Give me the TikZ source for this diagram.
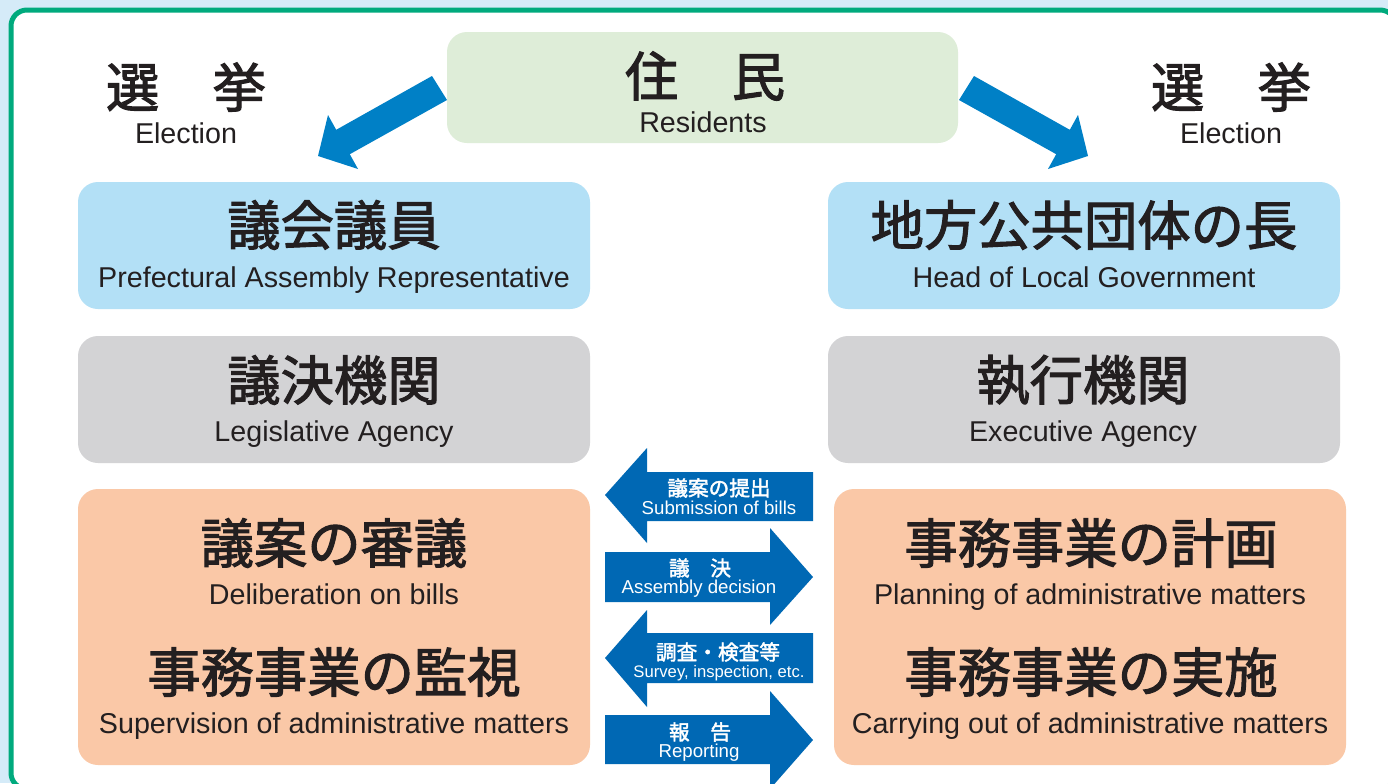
\documentclass[tikz,border=0pt]{standalone}
\usepackage{fontspec}
\setmainfont{Liberation Sans}
\newfontfamily\jpt{Noto Sans CJK JP}[FakeBold=2]
\definecolor{bgblue}{RGB}{213,235,248}
\definecolor{frame}{RGB}{0,170,125}
\definecolor{resfill}{RGB}{222,237,216}
\definecolor{bluefill}{RGB}{179,224,246}
\definecolor{grayfill}{RGB}{211,211,213}
\definecolor{orangefill}{RGB}{250,200,167}
\definecolor{toparrow}{RGB}{0,128,198}
\definecolor{midarrow}{RGB}{0,104,180}
\definecolor{ink}{RGB}{35,31,32}
\begin{document}
\begin{tikzpicture}[x=0.75pt,y=-0.75pt,
  box/.style={rounded corners=15pt, minimum width=384pt, inner sep=0pt, draw=none},
  jtitle/.style={font=\jpt\fontsize{40}{40}\selectfont, text=ink, inner sep=0pt, anchor=center},
  esub/.style={font=\fontsize{21.5}{21.5}\selectfont, text=ink, inner sep=0pt, anchor=base},
  arrj/.style={font=\jpt\fontsize{15.5}{16}\selectfont, text=white, inner sep=0pt, anchor=center},
  arre/.style={font=\fontsize{14}{14}\selectfont, text=white, inner sep=0pt, anchor=base}]
\useasboundingbox (0,0) rectangle (1388,783);
\fill[bgblue] (0,0) rectangle (1388,783);
\begin{scope}
\clip (0,0) rectangle (1388,783);
\draw[frame, line width=3.75pt, fill=white, rounded corners=12pt] (11,10) rectangle (1396,789);
\end{scope}

% boxes
\node[box, fill=resfill, minimum width=383.25pt, minimum height=83.25pt] (res) at (702.5,87.5) {};
\node[box, fill=bluefill, minimum height=95.25pt] (gikai) at (334,245.5) {};
\node[box, fill=bluefill, minimum height=95.25pt] (head) at (1084,245.5) {};
\node[box, fill=grayfill, minimum height=95.25pt] (giketsu) at (334,399.5) {};
\node[box, fill=grayfill, minimum height=95.25pt] (shikko) at (1084,399.5) {};
\node[box, fill=orangefill, minimum height=207pt] (lorange) at (334,627) {};
\node[box, fill=orangefill, minimum height=207pt] (rorange) at (1090,627) {};

% top arrows
\coordinate (la1) at (432,76);
\coordinate (la2) at (336.2,129.8);
\coordinate (la3) at (328,115);
\coordinate (latip) at (318,156);
\coordinate (la5) at (358,169);
\coordinate (la6) at (349.8,154.2);
\coordinate (la7) at (447,100);
\fill[toparrow] (la1) -- (la2) -- (la3) -- (latip) -- (la5) -- (la6) -- (la7) -- cycle;
\coordinate (ra1) at (974,76);
\coordinate (ra2) at (1069.8,129.8);
\coordinate (ra3) at (1078,115);
\coordinate (ratip) at (1088,156);
\coordinate (ra5) at (1048,169);
\coordinate (ra6) at (1056.2,154.2);
\coordinate (ra7) at (959,100);
\fill[toparrow] (ra1) -- (ra2) -- (ra3) -- (ratip) -- (ra5) -- (ra6) -- (ra7) -- cycle;

% middle arrows
\fill[midarrow] (605,495) -- (647,448) -- (647,472) -- (813,472) -- (813,521) -- (647,521) -- (647,543) -- cycle;
\fill[midarrow] (605,552) -- (770,552) -- (770,528) -- (813,577) -- (770,625) -- (770,602) -- (605,602) -- cycle;
\fill[midarrow] (605,658) -- (647,610) -- (647,633) -- (813,633) -- (813,683) -- (647,683) -- (647,707) -- cycle;
\fill[midarrow] (605,715) -- (770,715) -- (770,691) -- (813,740) -- (770,789) -- (770,764) -- (605,764) -- cycle;

% texts top
\node[jtitle] (resj) at (705,76) {住　民};
\node[esub] (rese) at (703,132) {Residents};
\node[jtitle] (lsenj) at (186,87) {選　挙};
\node[esub] (lsene) at (186,143) {Election};
\node[jtitle] (rsenj) at (1231,87) {選　挙};
\node[esub] (rsene) at (1231,143) {Election};

\node[jtitle] (gikaij) at (334,225) {議会議員};
\node[esub] (gikaie) at (334,287) {Prefectural Assembly Representative};
\node[jtitle] (headj) at (1084,225) {地方公共団体の長};
\node[esub] (heade) at (1084,287) {Head of Local Government};
\node[jtitle] (giketsuj) at (334,380) {議決機関};
\node[esub] (giketsue) at (334,441) {Legislative Agency};
\node[jtitle] (shikkoj) at (1083,380) {執行機関};
\node[esub] (shikkoe) at (1083,441) {Executive Agency};

\node[jtitle] (shingij) at (334,543) {議案の審議};
\node[esub] (shingie) at (334,604) {Deliberation on bills};
\node[jtitle] (kanshij) at (334,672) {事務事業の監視};
\node[esub] (kanshie) at (334,733) {Supervision of administrative matters};
\node[jtitle] (keikakuj) at (1091,543) {事務事業の計画};
\node[esub] (keikakue) at (1090,604) {Planning of administrative matters};
\node[jtitle] (jisshij) at (1091,672) {事務事業の実施};
\node[esub] (jisshie) at (1090,733) {Carrying out of administrative matters};

% arrow texts
\node[arrj] (a1j) at (719,488) {議案の提出};
\node[arre] (a1e) at (719,514) {Submission of bills};
\node[arrj] (a2j) at (700,568) {議　決};
\node[arre] (a2e) at (699,593) {Assembly decision};
\node[arrj] (a3j) at (718,652) {調査・検査等};
\node[arre, font=\fontsize{12.5}{13}\selectfont] (a3e) at (719,677) {Survey, inspection, etc.};
\node[arrj] (a4j) at (700,732) {報　告};
\node[arre] (a4e) at (699,757) {Reporting};
\end{tikzpicture}
\end{document}
